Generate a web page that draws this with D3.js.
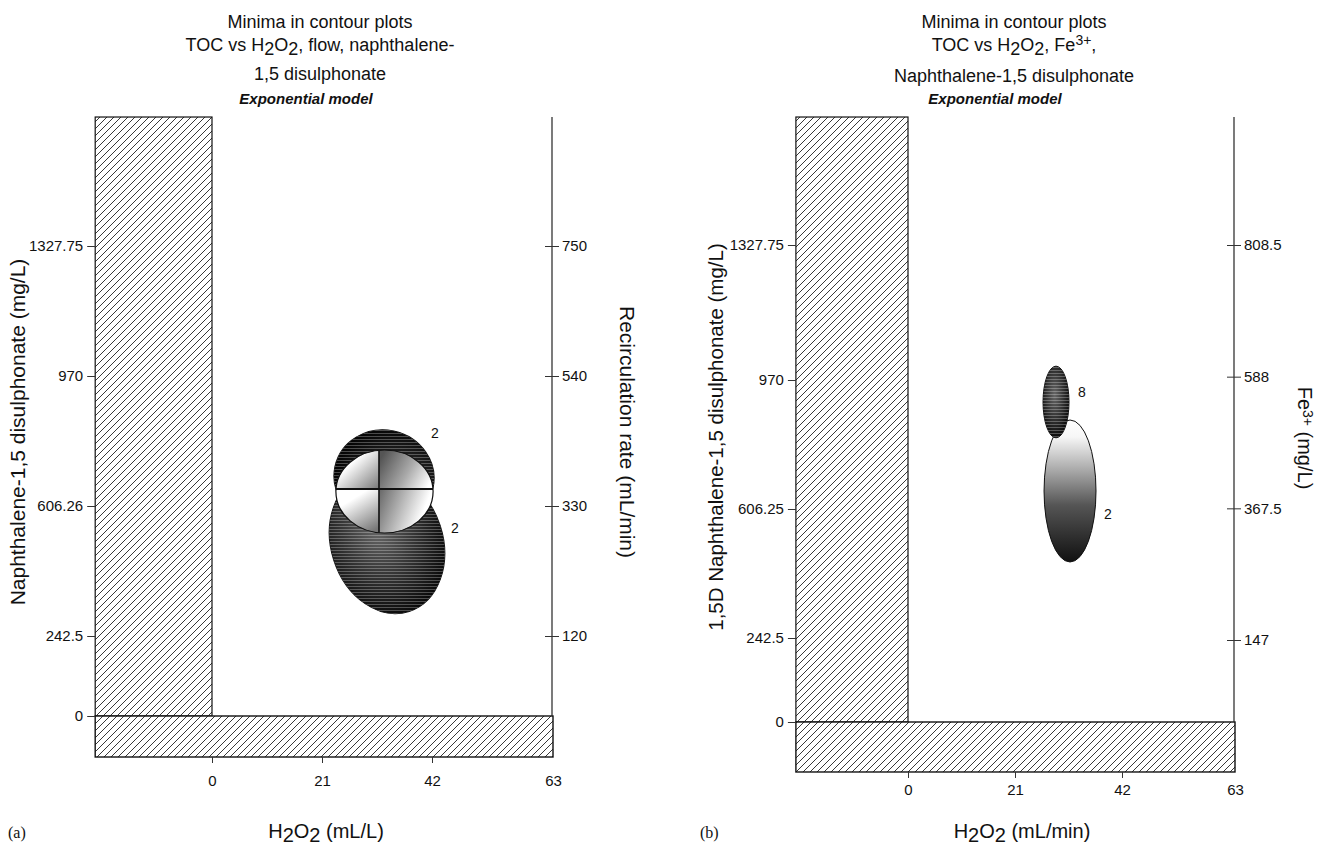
<!DOCTYPE html>
<html>
<head>
<meta charset="utf-8">
<script src="https://cdn.jsdelivr.net/npm/d3@7"></script>
<style>
 body{margin:0;background:#fff;}
 svg text{font-family:"Liberation Sans",Arial,sans-serif;fill:#111;}
</style>
</head>
<body>
<svg id="chart" width="1323" height="848"></svg>
<script>
//Values
var h2o2Ticks  = [0, 21, 42, 63];			//H2O2 axis, both panels
var naphTicksA = [0, 242.5, 606.26, 970, 1327.75];	//naphthalene-1,5 disulphonate, panel a
var naphTicksB = [0, 242.5, 606.25, 970, 1327.75];	//same, panel b
var flowTicks  = [120, 330, 540, 750];			//recirculation rate mL/min (a, right)
var feTicks    = [147, 367.5, 588, 808.5];		//Fe3+ mg/L (b, right)

//hatched (not allowed) zones: how far below zero / how high they reach
var lowH2O2 = [-22.3, -22.0];
var lowNaph = [-124.3, -144.3];
var topNaph = [1682.7, 1666.9];

//minimum regions, panel a : centre H2O2, centre naphth., half widths, tilt
var minA_h2o2  = [33.41, 32.84];
var minA_naph  = [502.7, 687.4];
var minA_dh2o2 = [10.5, 9.55];
var minA_dnaph = [201.5, 131.5];
var minA_tilt  = [-18, 12];
//quartered optimum ellipse in panel a
var optA   = [32.93, 646.8, 9.26, 116.1];
var crossA = [31.88, 653.8];
var labA      = ["2", "2"];
var labA_h2o2 = [42.52, 45.99];
var labA_naph = [810.5, 544.7];

//minimum regions, panel b
var minB_h2o2  = [31.8, 29.05];
var minB_naph  = [657.0, 908.0];
var minB_dh2o2 = [5.1, 2.55];
var minB_dnaph = [200.2, 98.7];
var labB      = ["2", "8"];
var labB_h2o2 = [39.25, 34.15];
var labB_naph = [592.2, 936.2];

var svg = d3.select("#chart");
var defs = svg.append("defs");
var clipCount = 0;

//Hatch pattern for the excluded bands
var hatch = defs.append("pattern").attr("id","hatch")
 .attr("patternUnits","userSpaceOnUse").attr("width",7).attr("height",7);
hatch.append("rect").attr("width",7).attr("height",7).attr("fill","#fff");
hatch.append("path").attr("d","M-1,1 l2,-2 M0,7 l7,-7 M6,8 l2,-2")
 .attr("stroke","#222").attr("stroke-width",0.9);

//Thin white scan lines seen through the dark blobs
var stripes = defs.append("pattern").attr("id","stripes")
 .attr("patternUnits","userSpaceOnUse").attr("width",6).attr("height",3);
stripes.append("rect").attr("y",1).attr("width",6).attr("height",0.9)
 .attr("fill","#fff").attr("opacity",0.3);

function radial(id, cx, cy, r, stops){
 var gr = defs.append("radialGradient").attr("id",id)
  .attr("cx",cx).attr("cy",cy).attr("r",r);
 stops.forEach(function(s){ gr.append("stop").attr("offset",s[0]).attr("stop-color",s[1]); });
}
function linear(id, x1, y1, x2, y2, stops){
 var gr = defs.append("linearGradient").attr("id",id)
  .attr("x1",x1).attr("y1",y1).attr("x2",x2).attr("y2",y2);
 stops.forEach(function(s){ gr.append("stop").attr("offset",s[0]).attr("stop-color",s[1]); });
}
radial("darkBlob","45%","40%","62%",[["0%","#666"],["50%","#363636"],["100%","#080808"]]);
radial("darkTop","62%","55%","60%",[["0%","#4a4a4a"],["60%","#1c1c1c"],["100%","#050505"]]);
linear("fadeDown",0,0,0,1,[["0%","#fff"],["12%","#f6f6f6"],["35%","#aaa"],["60%","#555"],["85%","#2a2a2a"],["100%","#111"]]);
linear("qTL",0,0,1,1,[["0%","#fff"],["35%","#fff"],["100%","#777"]]);
linear("qTR",0,0.3,1,0.7,[["0%","#555"],["55%","#aaa"],["100%","#fff"]]);
linear("qBL",0.2,0,0.8,1,[["0%","#fff"],["25%","#fff"],["100%","#777"]]);
linear("qBR",0,0,1,0.3,[["0%","#666"],["50%","#bbb"],["90%","#fff"]]);

//text with sub/superscripts: parts are [text, dy, size]
function richText(t, parts){
 var off = 0;
 parts.forEach(function(p){
  var ts = t.append("tspan").attr("dy", p[1]-off).text(p[0]);
  if(p[2]) ts.style("font-size", p[2]+"px");
  off = p[1];
 });
 return t;
}
function label(x, y, size, anchor, str){
 return svg.append("text").attr("x",x).attr("y",y)
  .attr("text-anchor",anchor).style("font-size",size+"px").text(str);
}

function drawPanel(p){
 var x  = d3.scaleLinear().domain(h2o2Ticks).range(p.xRange);
 var y  = d3.scaleLinear().domain(p.naphTicks).range(p.yRange);
 var y2 = d3.scaleLinear().domain(d3.extent(p.rightTicks)).range(p.y2Range);
 var g  = svg.append("g");
 var x0 = x(p.lowH2O2), x63 = x(63);

 //Excluded zones
 g.append("rect")
  .attr("x", x0).attr("y", y(p.topNaph))
  .attr("width", x(0)-x0).attr("height", y(0)-y(p.topNaph))
  .attr("fill","url(#hatch)").attr("stroke","#111").attr("stroke-width",1.2);
 g.append("rect")
  .attr("x", x0).attr("y", y(0))
  .attr("width", x63-x0).attr("height", y(p.lowNaph)-y(0))
  .attr("fill","url(#hatch)").attr("stroke","#111").attr("stroke-width",1.4);

 //Left axis (ticks only, the bar is the axis)
 var la = g.append("g").attr("transform","translate("+x0+",0)")
  .call(d3.axisLeft(y).tickValues(p.naphTicks).tickSize(8).tickPadding(4)
   .tickFormat(function(d){ return String(d); }));
 la.select(".domain").remove();
 la.selectAll("text").style("font-size","15px").attr("font-family",null).attr("fill","#111");
 la.selectAll("line").attr("stroke","#333");

 //Right axis
 g.append("line").attr("x1",x63-1).attr("x2",x63-1)
  .attr("y1",y(p.topNaph)).attr("y2",y(0)).attr("stroke","#222").attr("stroke-width",1.2);
 var ra = g.append("g").attr("transform","translate("+(x63-1)+",0)")
  .call(d3.axisRight(y2).tickValues(p.rightTicks).tickSize(7).tickPadding(3)
   .tickFormat(function(d){ return String(d); }));
 ra.select(".domain").remove();
 ra.selectAll("line").attr("x1",-7).attr("stroke","#333");
 ra.selectAll("text").style("font-size","15px").attr("font-family",null).attr("fill","#111");

 //Bottom axis under the band
 var ba = g.append("g").attr("transform","translate(0,"+y(p.lowNaph)+")")
  .call(d3.axisBottom(x).tickValues(h2o2Ticks).tickSize(6).tickPadding(p.padX));
 ba.select(".domain").remove();
 ba.selectAll(".tick").filter(function(d){ return d===63; }).select("line").remove();
 ba.selectAll("text").style("font-size","15px").attr("font-family",null).attr("fill","#111");
 ba.selectAll("line").attr("stroke","#333");

 //Minimum regions
 function blob(cx, cy, dx, dy, tilt, fill){
  var px = x(cx), py = y(cy);
  var rx = x(cx+dx)-px, ry = py-y(cy+dy);
  var tr = "translate("+px+","+py+") rotate("+tilt+")";
  g.append("ellipse").attr("rx",rx).attr("ry",ry).attr("transform",tr)
   .attr("fill",fill).attr("stroke","#111").attr("stroke-width",1);
  if(fill==="url(#fadeDown)") return;
  var id = "blobClip" + (clipCount++);		//stripes stay horizontal
  defs.append("clipPath").attr("id",id).append("ellipse")
   .attr("rx",rx).attr("ry",ry).attr("transform",tr);
  var m = Math.max(rx,ry)+2;
  g.append("rect").attr("x",px-m).attr("y",py-m).attr("width",2*m).attr("height",2*m)
   .attr("fill","url(#stripes)").attr("clip-path","url(#"+id+")");
 }
 p.regions.h2o2.forEach(function(d,i){
  blob(d, p.regions.naph[i], p.regions.dh2o2[i], p.regions.dnaph[i],
   p.regions.tilt ? p.regions.tilt[i] : 0, p.regions.fill[i]);
 });
 if(p.opt){					//quartered optimum
  var ocx = x(p.opt[0]), ocy = y(p.opt[1]);
  var orx = x(p.opt[0]+p.opt[2])-ocx, ory = ocy-y(p.opt[1]+p.opt[3]);
  var kx = x(p.cross[0]), ky = y(p.cross[1]);
  defs.append("clipPath").attr("id","optClip").append("ellipse")
   .attr("cx",ocx).attr("cy",ocy).attr("rx",orx).attr("ry",ory);
  var q = g.append("g").attr("clip-path","url(#optClip)");
  q.append("rect").attr("x",ocx-orx).attr("y",ocy-ory).attr("width",kx-ocx+orx).attr("height",ky-ocy+ory).attr("fill","url(#qTL)");
  q.append("rect").attr("x",kx).attr("y",ocy-ory).attr("width",ocx+orx-kx).attr("height",ky-ocy+ory).attr("fill","url(#qTR)");
  q.append("rect").attr("x",ocx-orx).attr("y",ky).attr("width",kx-ocx+orx).attr("height",ocy+ory-ky).attr("fill","url(#qBL)");
  q.append("rect").attr("x",kx).attr("y",ky).attr("width",ocx+orx-kx).attr("height",ocy+ory-ky).attr("fill","url(#qBR)");
  q.append("line").attr("x1",ocx-orx).attr("x2",ocx+orx).attr("y1",ky).attr("y2",ky).attr("stroke","#111").attr("stroke-width",2);
  q.append("line").attr("x1",kx).attr("x2",kx).attr("y1",ocy-ory).attr("y2",ocy+ory).attr("stroke","#111").attr("stroke-width",1.6);
  g.append("ellipse").attr("cx",ocx).attr("cy",ocy).attr("rx",orx).attr("ry",ory)
   .attr("fill","none").attr("stroke","#111").attr("stroke-width",1.2);
 }
 g.selectAll(".clabel").data(p.labels.text).enter().append("text")
  .attr("class","clabel")
  .attr("x", function(d,i){ return x(p.labels.h2o2[i]); })
  .attr("y", function(d,i){ return y(p.labels.naph[i]); })
  .attr("dy","0.35em").attr("text-anchor","middle")
  .style("font-size","14px").text(function(d){ return d; });
}

drawPanel({
 xRange:[212,322,432,553], yRange:[716,636,506,376,246], y2Range:[636,246],
 naphTicks:naphTicksA, rightTicks:flowTicks, padX:12,
 lowH2O2:lowH2O2[0], lowNaph:lowNaph[0], topNaph:topNaph[0],
 regions:{h2o2:minA_h2o2, naph:minA_naph, dh2o2:minA_dh2o2, dnaph:minA_dnaph,
  tilt:minA_tilt, fill:["url(#darkBlob)","url(#darkTop)"]},
 opt:optA, cross:crossA,
 labels:{text:labA, h2o2:labA_h2o2, naph:labA_naph}
});
drawPanel({
 xRange:[908,1015,1122,1235], yRange:[722,638,509,380,245], y2Range:[640,245],
 naphTicks:naphTicksB, rightTicks:feTicks, padX:6,
 lowH2O2:lowH2O2[1], lowNaph:lowNaph[1], topNaph:topNaph[1],
 regions:{h2o2:minB_h2o2, naph:minB_naph, dh2o2:minB_dh2o2, dnaph:minB_dnaph,
  fill:["url(#fadeDown)","url(#darkBlob)"]},
 labels:{text:labB, h2o2:labB_h2o2, naph:labB_naph}
});

//Titles, panel a
label(320, 28, 18, "middle", "Minima in contour plots");
richText(svg.append("text").attr("x",320).attr("y",51).attr("text-anchor","middle").style("font-size","18px"),
 [["TOC vs H",0],["2",4],["O",0],["2",4],[", flow, naphthalene-",0]]);
label(320, 80, 18, "middle", "1,5 disulphonate");
label(306, 104, 15, "middle", "Exponential  model").style("font-weight","bold").style("font-style","italic");

//Titles, panel b
label(1014, 28, 18, "middle", "Minima in contour plots");
richText(svg.append("text").attr("x",1014).attr("y",51).attr("text-anchor","middle").style("font-size","18px"),
 [["TOC vs H",0],["2",4],["O",0],["2",4],[", Fe",0],["3+",-6,14],[",",0]]);
label(1014, 82, 18, "middle", "Naphthalene-1,5 disulphonate");
label(995, 104, 15, "middle", "Exponential  model").style("font-weight","bold").style("font-style","italic");

//Axis titles
label(0, 0, 21, "middle", "Naphthalene-1,5 disulphonate (mg/L)")
 .attr("transform","translate(25,432) rotate(-90)");
label(0, 0, 21, "middle", "Recirculation rate (mL/min)")
 .attr("transform","translate(620,432) rotate(90)");
label(0, 0, 20.5, "middle", "1,5D Naphthalene-1,5 disulphonate (mg/L)")
 .attr("transform","translate(723,437) rotate(-90)");
richText(svg.append("text").attr("text-anchor","middle").style("font-size","20px")
  .attr("transform","translate(1298,438) rotate(90)"),
 [["Fe",0],["3+",-5,14],[" (mg/L)",0]]);

richText(svg.append("text").attr("x",326).attr("y",838).attr("text-anchor","middle").style("font-size","20px"),
 [["H",0],["2",4],["O",0],["2",4],["  (mL/L)",0]]);
richText(svg.append("text").attr("x",1022).attr("y",838).attr("text-anchor","middle").style("font-size","20px"),
 [["H",0],["2",4],["O",0],["2",4],[" (mL/min)",0]]);

label(8, 838, 16, "start", "(a)").style("font-family","'Liberation Serif',serif");
label(700, 838, 16, "start", "(b)").style("font-family","'Liberation Serif',serif");
</script>
</body>
</html>
